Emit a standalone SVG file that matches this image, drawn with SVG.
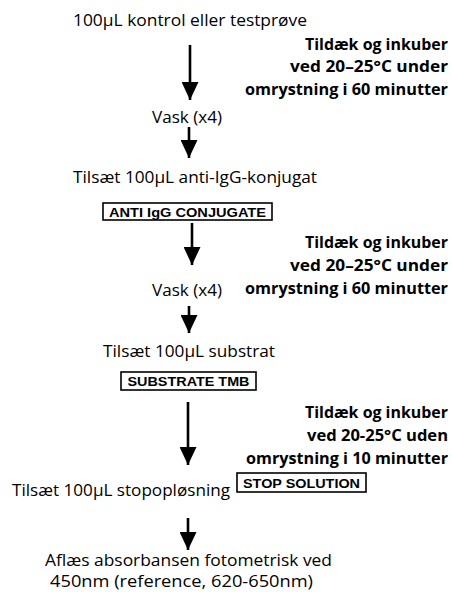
<svg xmlns="http://www.w3.org/2000/svg" width="452" height="592" viewBox="0 0 452 592">
  <defs>
    <!-- solid triangular head, drawn along +x so orient="auto" points it down the line -->
    <marker id="head" viewBox="0 0 18 17" refX="18" refY="8.5" markerWidth="18" markerHeight="17" markerUnits="userSpaceOnUse" orient="auto">
      <path d="M0,0 L18,8.5 L0,17 Z" fill="#000"/>
    </marker>
  </defs>
  <style>
    .step { font-family: "Open Sans", "Noto Sans", sans-serif; font-size: 16.5px; fill: #000; }
    .small { font-size: 16px; }
    .cond { font-family: "Open Sans", "Noto Sans", sans-serif; font-size: 16.5px; font-weight: bold; fill: #000; text-anchor: end; }
    .reagent { font-family: "Liberation Sans", Arial, sans-serif; font-size: 12.5px; font-weight: bold; fill: #000; text-anchor: middle; }
    .box { fill: #fff; stroke: #000; stroke-width: 1.6; }
    .arrow { stroke: #000; stroke-width: 2.6; fill: none; }
  </style>
  <rect width="452" height="592" fill="#fff"/>

  <g id="connectors">
    <line class="arrow" x1="190" y1="45" x2="190" y2="100" marker-end="url(#head)"/>
    <line class="arrow" x1="189" y1="127" x2="189" y2="158" marker-end="url(#head)"/>
    <line class="arrow" x1="192" y1="223" x2="192" y2="265" marker-end="url(#head)"/>
    <line class="arrow" x1="189" y1="306" x2="189" y2="333" marker-end="url(#head)"/>
    <line class="arrow" x1="188" y1="402" x2="188" y2="465" marker-end="url(#head)"/>
    <line class="arrow" x1="188" y1="518" x2="188" y2="550" marker-end="url(#head)"/>
  </g>

  <g id="sample">
    <text class="step" x="73" y="26" textLength="234" lengthAdjust="spacingAndGlyphs">100µL kontrol eller testprøve</text>
  </g>
  <g id="incubate-1">
    <text class="cond" x="448" y="50" textLength="143" lengthAdjust="spacingAndGlyphs">Tildæk og inkuber</text>
    <text class="cond" x="448" y="72" textLength="158" lengthAdjust="spacingAndGlyphs">ved 20–25°C under</text>
    <text class="cond" x="448" y="95" textLength="203" lengthAdjust="spacingAndGlyphs">omrystning i 60 minutter</text>
  </g>
  <g id="wash-1">
    <text class="step" x="152" y="123" textLength="70" lengthAdjust="spacingAndGlyphs">Vask (x4)</text>
  </g>
  <g id="add-conjugate">
    <text class="step" x="73" y="183" textLength="244" lengthAdjust="spacingAndGlyphs">Tilsæt 100µL anti-IgG-konjugat</text>
  </g>
  <g id="conjugate-reagent">
    <rect class="box" x="103" y="203" width="169" height="17"/>
    <text class="reagent" x="187.5" y="216.5" textLength="157" lengthAdjust="spacingAndGlyphs">ANTI IgG CONJUGATE</text>
  </g>
  <g id="incubate-2">
    <text class="cond" x="448" y="248" textLength="143" lengthAdjust="spacingAndGlyphs">Tildæk og inkuber</text>
    <text class="cond" x="448" y="271" textLength="158" lengthAdjust="spacingAndGlyphs">ved 20–25°C under</text>
    <text class="cond" x="448" y="294" textLength="203" lengthAdjust="spacingAndGlyphs">omrystning i 60 minutter</text>
  </g>
  <g id="wash-2">
    <text class="step" x="152" y="296" textLength="70" lengthAdjust="spacingAndGlyphs">Vask (x4)</text>
  </g>
  <g id="add-substrate">
    <text class="step" x="103" y="357" textLength="172" lengthAdjust="spacingAndGlyphs">Tilsæt 100µL substrat</text>
  </g>
  <g id="substrate-reagent">
    <rect class="box" x="121" y="372" width="135" height="18"/>
    <text class="reagent" x="188.5" y="386" textLength="122" lengthAdjust="spacingAndGlyphs">SUBSTRATE TMB</text>
  </g>
  <g id="incubate-3">
    <text class="cond" x="448" y="418" textLength="143" lengthAdjust="spacingAndGlyphs">Tildæk og inkuber</text>
    <text class="cond" x="448" y="441" textLength="141" lengthAdjust="spacingAndGlyphs">ved 20-25°C uden</text>
    <text class="cond" x="448" y="464" textLength="202" lengthAdjust="spacingAndGlyphs">omrystning i 10 minutter</text>
  </g>
  <g id="add-stop">
    <text class="step" x="12" y="496" textLength="218" lengthAdjust="spacingAndGlyphs">Tilsæt 100µL stopopløsning</text>
  </g>
  <g id="stop-reagent">
    <rect class="box" x="237" y="473" width="129" height="19"/>
    <text class="reagent" x="301.5" y="487.5" textLength="117" lengthAdjust="spacingAndGlyphs">STOP SOLUTION</text>
  </g>
  <g id="read-absorbance">
    <text class="step small" x="45" y="566" textLength="287" lengthAdjust="spacingAndGlyphs">Aflæs absorbansen fotometrisk ved</text>
    <text class="step small" x="50" y="587" textLength="263" lengthAdjust="spacingAndGlyphs">450nm (reference, 620-650nm)</text>
  </g>
</svg>
